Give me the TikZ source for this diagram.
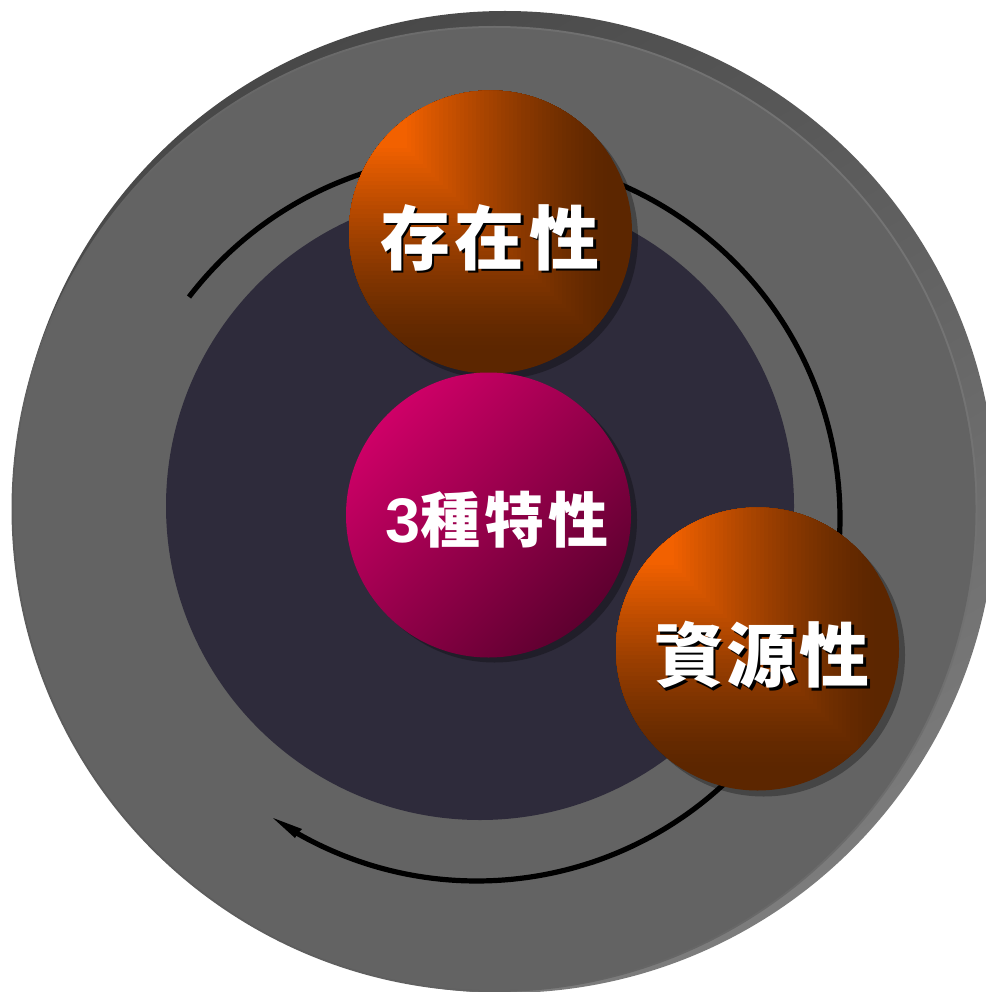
\documentclass[tikz,border=0pt]{standalone}
\usepackage{fontspec}
\newfontfamily\cjk{Noto Sans CJK TC}
\newfontfamily\latinbold{Liberation Sans}
\tikzset{x=1pt,y=-1pt,
  labeltext/.style={inner sep=0pt,text=white,font=\cjk\bfseries\fontsize{70pt}{70pt}\selectfont},
  labelshade/.style={inner sep=0pt,text=black,font=\cjk\bfseries\fontsize{70pt}{70pt}\selectfont},
  ringline/.style={line width=5.2pt,black}}
\definecolor{rimdark}{HTML}{484848}
\definecolor{rimlight}{HTML}{7C7C7C}
\definecolor{edgelight}{HTML}{747474}
\definecolor{edgedark}{HTML}{5C5C5C}
\definecolor{facegrey}{HTML}{636363}
\definecolor{navy}{HTML}{2E2B3B}
\definecolor{orangehi}{HTML}{F26100}
\definecolor{orangelo}{HTML}{5C2600}
\definecolor{pinkhi}{HTML}{CE0067}
\definecolor{pinklo}{HTML}{5E002F}
% corner-gradient sphere: #1 cx, #2 cy
\newcommand{\cornerball}[2]{%
  \fill[black,opacity=.3] (#1+6,#2+6) circle[radius=141.5];
  \begin{scope}
    \clip (#1,#2) circle[radius=141.5];
    \fill[orangelo] (#1-142,#2-142) rectangle (#1+142,#2+142);
    \foreach \i in {50,49,...,0}{
      \pgfmathsetmacro{\mixv}{100*(1-\i/50)^1.35}
      \fill[orangehi!\mixv!orangelo] (#1-142,#2-142) rectangle (#1-142+58+4.1*\i,#2-142+58+4.1*\i);
    }
  \end{scope}}
\begin{document}
\begin{tikzpicture}
\useasboundingbox (0,0) rectangle (985,992);
% outer disc
\shade[top color=rimdark,bottom color=rimlight,shading angle=30] (505,502) circle[radius=491];
\shade[top color=edgelight,bottom color=edgedark,shading angle=-60] (494.5,509) circle[radius=483];
\fill[facegrey] (494.5,509) circle[radius=481];
% inner disc
\fill[navy] (480,506) circle[radius=314];
% ring arrow
\coordinate (ringstart) at (189,297);
\coordinate (tip) at (273,818);
\draw[ringline] (ringstart) arc[start angle=217.5,end angle=480.5,radius=363];
\fill[black] (tip) -- (302,829) -- (298,833) -- (295,838) -- cycle;
% balls
\cornerball{490.5}{232}
\cornerball{757.5}{649}
\fill[black,opacity=.3] (494.5,520) circle[radius=142.5];
\shade[top color=pinkhi,bottom color=pinklo,shading angle=45] (488.5,515) circle[radius=142.5];
% labels
\node[labelshade] (existshade) at (492.5,240) {存\hspace{5pt}在\hspace{5pt}性};
\node[labeltext] (exist) at (490,237.5) {存\hspace{5pt}在\hspace{5pt}性};
\node[labelshade] (sourceshade) at (764.5,657.5) {資\hspace{3pt}源\hspace{3pt}性};
\node[labeltext] (source) at (762,655) {資\hspace{3pt}源\hspace{3pt}性};
\node[inner sep=0pt,text=white,font=\cjk\bfseries\fontsize{60pt}{60pt}\selectfont] (core) at (497,520) {{\latinbold\bfseries\fontsize{63pt}{63pt}\selectfont 3}種\hspace{4pt}特\hspace{4pt}性};
\end{tikzpicture}
\end{document}
